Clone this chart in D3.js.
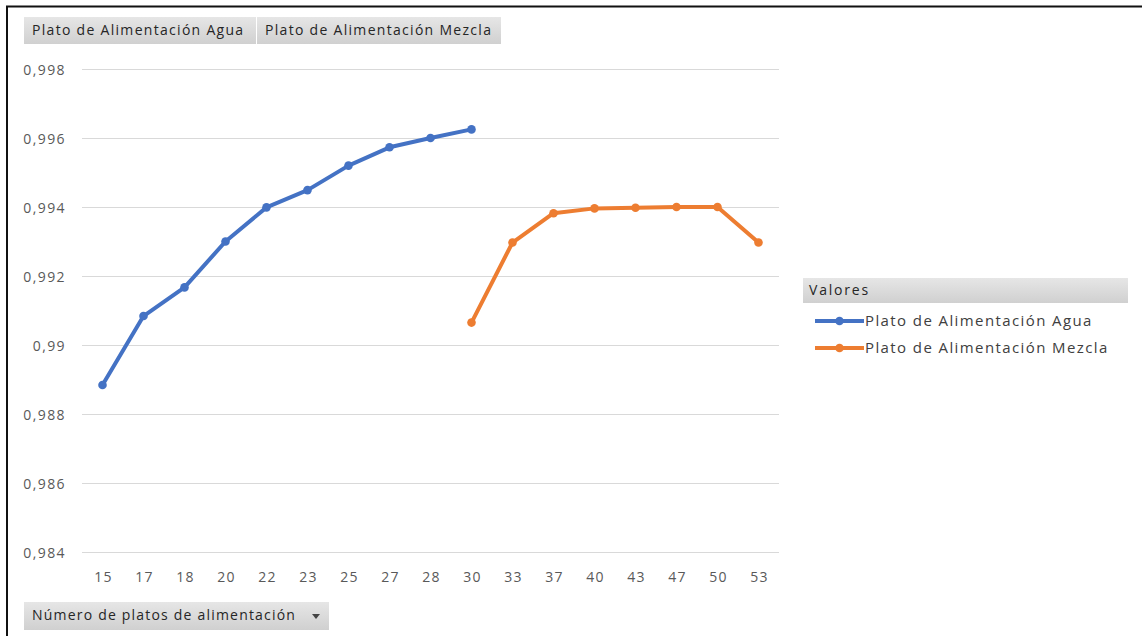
<!DOCTYPE html>
<html>
<head>
<meta charset="utf-8">
<script src="https://cdn.jsdelivr.net/npm/d3@7"></script>
<style>
  html, body { margin: 0; padding: 0; background: #fff; }
  svg { display: block; font-family: "Open Sans", "Noto Sans", sans-serif; }
</style>
</head>
<body>
<svg id="chart" width="1142" height="636"></svg>
<script>
// Number of feed plates (category axis)
const categories = ["15","17","18","20","22","23","25","27","28","30","33","37","40","43","47","50","53"];
// Series values (null where the series has no value for that category)
const agua   = [0.98884, 0.99084, 0.99167, 0.99300, 0.99399, 0.99449, 0.99520, 0.99573, 0.99600, 0.99625,
                null, null, null, null, null, null, null];
const mezcla = [null, null, null, null, null, null, null, null, null, 0.99065,
                0.99297, 0.99382, 0.99396, 0.99398, 0.99400, 0.99400, 0.99297];
const seriesNames = ["Plato de Alimentación Agua", "Plato de Alimentación Mezcla"];
const seriesColors = ["#4472C4", "#ED7D31"];
const yTicks = [0.984, 0.986, 0.988, 0.990, 0.992, 0.994, 0.996, 0.998];
const fieldButtons = ["Plato de Alimentación Agua", "Plato de Alimentación Mezcla"];
const axisButton = "Número de platos de alimentación";
const legendTitle = "Valores";

const svg = d3.select("#chart");
const esLocale = d3.formatLocale({ decimal: ",", thousands: ".", grouping: [3], currency: ["", " €"] });
const fmt = esLocale.format("~g");

// gradient for the pivot field buttons
const defs = svg.append("defs");
const grad = defs.append("linearGradient").attr("id", "btn").attr("x1", 0).attr("y1", 0).attr("x2", 0).attr("y2", 1);
grad.append("stop").attr("offset", "0%").attr("stop-color", "#e6e6e6");
grad.append("stop").attr("offset", "100%").attr("stop-color", "#d0d0d0");

const x = d3.scaleBand().domain(categories).range([82, 779]).padding(0);
const y = d3.scaleLinear().domain([0.984, 0.998]).range([552, 69]);

// frame edges
svg.append("line").attr("x1", 7).attr("x2", 7).attr("y1", 6).attr("y2", 636).attr("stroke", "#111").attr("stroke-width", 2);
svg.append("line").attr("x1", 6).attr("x2", 1142).attr("y1", 6.5).attr("y2", 6.5).attr("stroke", "#111").attr("stroke-width", 2);

// gridlines
svg.append("g").selectAll("line").data(yTicks).join("line")
  .attr("x1", x.range()[0]).attr("x2", x.range()[1])
  .attr("y1", d => Math.round(y(d)) + 0.5).attr("y2", d => Math.round(y(d)) + 0.5)
  .attr("stroke", "#d9d9d9").attr("stroke-width", 1);

// y axis labels
const yAxis = d3.axisLeft(y).tickValues(yTicks).tickFormat(fmt).tickSize(0).tickPadding(0);
const gy = svg.append("g").attr("transform", "translate(66,1)").call(yAxis);
gy.select(".domain").remove();
gy.selectAll("text").attr("fill", "#595959")
  .style("font-size", "14px").style("letter-spacing", "1.4px").style("font-family", "'Open Sans', sans-serif");

// x axis labels
const xAxis = d3.axisBottom(x).tickSize(0).tickPadding(0);
const gx = svg.append("g").attr("transform", "translate(1,572)").call(xAxis);
gx.select(".domain").remove();
gx.selectAll("text").attr("fill", "#595959")
  .style("font-size", "14px").style("letter-spacing", "1.2px").style("font-family", "'Open Sans', sans-serif");

// series lines and markers
const line = d3.line()
  .defined(d => d.v != null)
  .x(d => x(d.c) + x.bandwidth() / 2)
  .y(d => y(d.v));

[agua, mezcla].forEach((vals, i) => {
  const pts = categories.map((c, j) => ({ c, v: vals[j] }));
  svg.append("path").datum(pts)
    .attr("d", line)
    .attr("fill", "none")
    .attr("stroke", seriesColors[i])
    .attr("stroke-width", 4)
    .attr("stroke-linejoin", "round")
    .attr("stroke-linecap", "round");
  svg.append("g").selectAll("circle").data(pts.filter(d => d.v != null)).join("circle")
    .attr("cx", d => x(d.c) + x.bandwidth() / 2)
    .attr("cy", d => y(d.v))
    .attr("r", 4.3)
    .attr("fill", seriesColors[i]);
});

// pivot field buttons (top)
const topBtns = [{ x: 24, w: 232 }, { x: 257, w: 244 }];
fieldButtons.forEach((t, i) => {
  const b = topBtns[i];
  svg.append("rect").attr("x", b.x).attr("y", 17).attr("width", b.w).attr("height", 27).attr("fill", "url(#btn)");
  svg.append("text").attr("x", b.x + 8).attr("y", 35).text(t)
    .attr("fill", "#262626").style("font-size", "14px").style("letter-spacing", "1.3px");
});

// axis field button (bottom)
svg.append("rect").attr("x", 24).attr("y", 602).attr("width", 305).attr("height", 28).attr("fill", "url(#btn)");
svg.append("text").attr("x", 32).attr("y", 620).text(axisButton).attr("fill", "#262626")
  .style("font-size", "14px").style("letter-spacing", "1.2px");
svg.append("path").attr("d", "M312,614 l8,0 l-4,5 z").attr("fill", "#444");

// legend
svg.append("rect").attr("x", 803).attr("y", 278).attr("width", 325).attr("height", 25).attr("fill", "url(#btn)");
svg.append("text").attr("x", 809).attr("y", 295).text(legendTitle).attr("fill", "#262626")
  .style("font-size", "14px").style("letter-spacing", "1.8px");
seriesNames.forEach((t, i) => {
  const ly = 321 + i * 27;
  svg.append("line").attr("x1", 815).attr("x2", 864).attr("y1", ly).attr("y2", ly)
    .attr("stroke", seriesColors[i]).attr("stroke-width", 4);
  svg.append("circle").attr("cx", 839.5).attr("cy", ly).attr("r", 4.3).attr("fill", seriesColors[i]);
  svg.append("text").attr("x", 865).attr("y", ly + 5).text(t).attr("fill", "#404040")
    .style("font-size", "15px").style("letter-spacing", "1.4px");
});
</script>
</body>
</html>
